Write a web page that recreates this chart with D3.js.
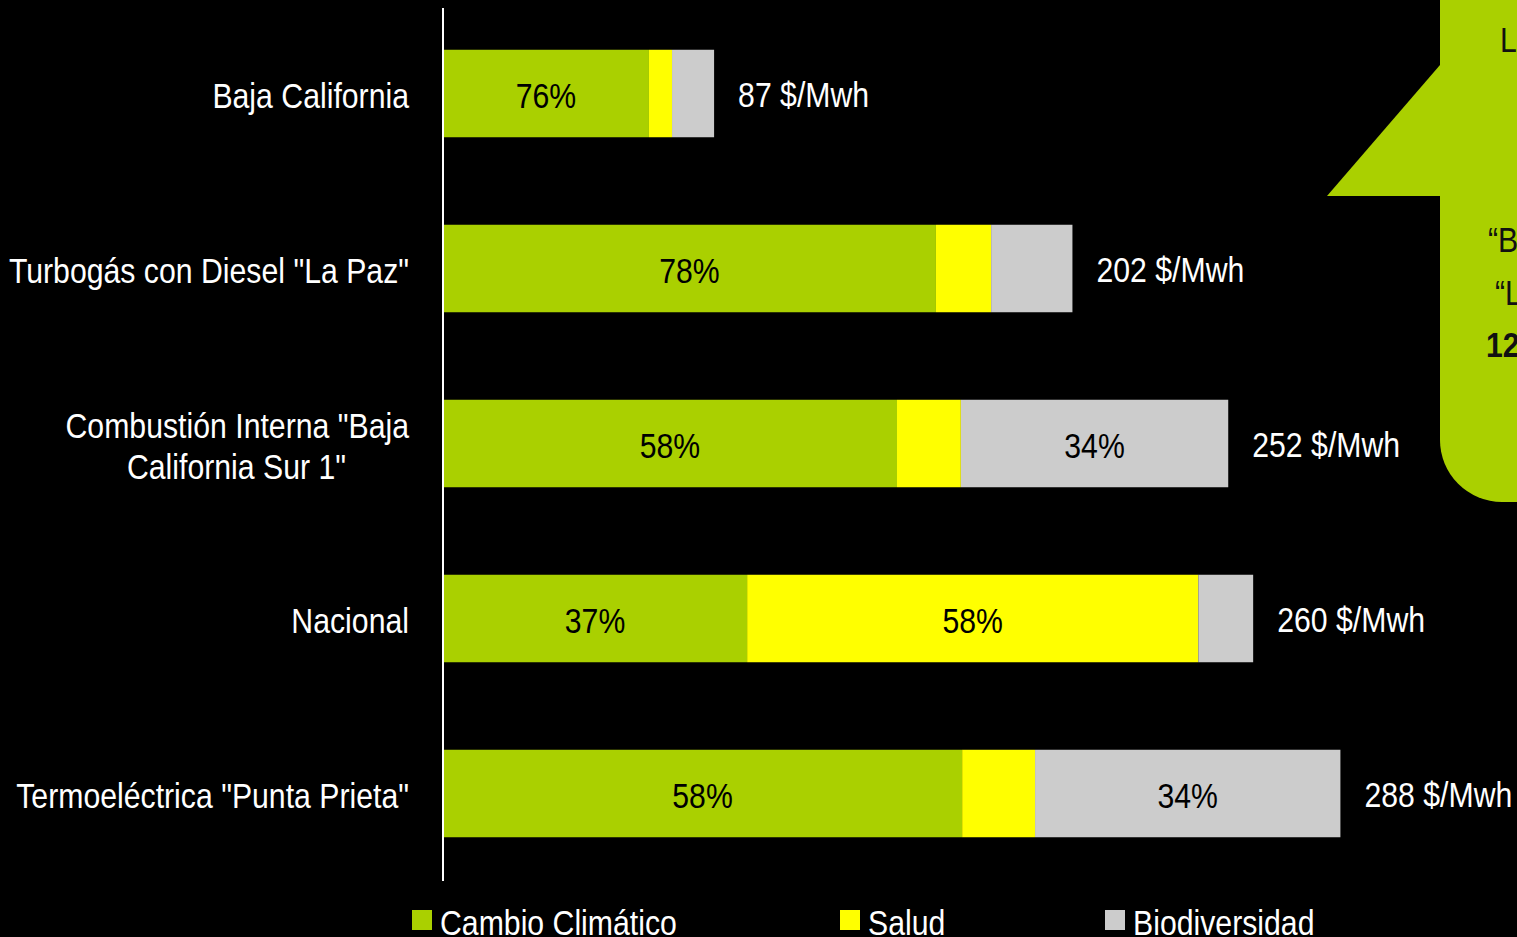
<!DOCTYPE html>
<html>
<head>
<meta charset="utf-8">
<script src="https://cdn.jsdelivr.net/npm/d3@7"></script>
<style>
  html, body { margin: 0; padding: 0; background: #000; overflow: hidden; }
  svg text { font-family: "Liberation Sans", Arial, sans-serif; }
</style>
</head>
<body>
<div class="svg-container"></div>
<script>
// categories, top to bottom
const categories = ["Baja California", "Turbogás con Diesel \"La Paz\"",
                    "Combustión Interna \"Baja|California Sur 1\"", "Nacional",
                    "Termoeléctrica \"Punta Prieta\""];
const series = ["Cambio Climático", "Salud", "Biodiversidad"];
// $/Mwh per component
const cambio = [66.1, 158.2, 145.7, 97.6, 166.6];
const salud = [7.4, 17.7, 20.5, 144.8, 23.4];
const biodiv = [13.5, 26.1, 85.8, 17.6, 98.0];
const totals = [87, 202, 252, 260, 288];
// percent labels shown in the segments ("" = none)
const cambioLbl = ["76%", "78%", "58%", "37%", "58%"];
const saludLbl = ["", "", "", "58%", ""];
const biodivLbl = ["", "", "34%", "", "34%"];
const colors = ["#aad000", "#ffff00", "#cccccc"];

const w = 1517, h = 937, fs = 36, sx = 0.84;
const svg = d3.select(".svg-container").append("svg")
  .attr("width", w).attr("height", h);

const xScale = d3.scaleLinear().domain([0, 300]).range([443, 443 + 300 * 3.116]);
const yScale = d3.scaleBand().domain(categories).range([6, 881])
  .paddingInner(0.5).paddingOuter(0.25);

// narrow text: a group placed at (x, y), squeezed horizontally
function narrow(sel, x, y) {
  return sel.append("g")
    .attr("transform", (d, i) => "translate(" + x(d, i) + "," + y(d, i) + ") scale(" + sx + ",1)")
    .append("text").attr("font-size", fs);
}

// stacked data
const rows = categories.map((c, i) => ({cat: c, vals: [cambio[i], salud[i], biodiv[i]],
  lbls: [cambioLbl[i], saludLbl[i], biodivLbl[i]], total: totals[i]}));
const stack = d3.stack().keys([0, 1, 2]).value((d, k) => d.vals[k]);
const layers = stack(rows);

// callout
const call = svg.append("g");
call.append("path")
  .attr("d", "M1440,65 L1327,196 L1440,196 Z")
  .attr("fill", colors[0]);
call.append("rect")
  .attr("x", 1440).attr("y", -60).attr("width", 200).attr("height", 562)
  .attr("rx", 62).attr("fill", colors[0]);
const callText = [["L", 1500, 52, "normal"], ["\u201CB", 1488, 252, "normal"],
                  ["\u201CL", 1495, 305, "normal"], ["12", 1486, 357, "bold"]];
narrow(call.selectAll(null).data(callText).enter(), d => d[1], d => d[2])
  .attr("font-weight", d => d[3])
  .attr("fill", "#111").text(d => d[0]);

// bars
const g = svg.append("g");
layers.forEach((layer, k) => {
  g.selectAll(null).data(layer).enter().append("rect")
    .attr("x", d => xScale(d[0]))
    .attr("y", d => yScale(d.data.cat))
    .attr("width", d => xScale(d[1]) - xScale(d[0]))
    .attr("height", yScale.bandwidth())
    .attr("fill", colors[k]);
  narrow(g.selectAll(null).data(layer.filter(d => d.data.lbls[k])).enter(),
         d => (xScale(d[0]) + xScale(d[1])) / 2,
         d => yScale(d.data.cat) + yScale.bandwidth() / 2 + 2)
    .attr("dy", "0.35em")
    .attr("text-anchor", "middle")
    .attr("fill", "#000")
    .text(d => d.data.lbls[k]);
});

// totals
narrow(g.selectAll(null).data(rows).enter(),
       d => xScale(d.total) + 24,
       d => yScale(d.cat) + yScale.bandwidth() / 2 + 1)
  .attr("dy", "0.35em")
  .attr("fill", "#fff")
  .text(d => d.total + " $/Mwh");

// axis
svg.append("line")
  .attr("x1", 443).attr("x2", 443).attr("y1", 8).attr("y2", 881)
  .attr("stroke", "#fff").attr("stroke-width", 2);

// category labels
const cl = narrow(svg.append("g").selectAll(null).data(categories).enter(),
                  d => 409, d => yScale(d) + yScale.bandwidth() / 2 + 2)
  .attr("text-anchor", "end")
  .attr("fill", "#fff");
cl.each(function(d) {
  const parts = d.split("|");
  const t = d3.select(this);
  parts.forEach((p, i) => {
    t.append("tspan")
      .attr("x", i === 0 ? 0 : (346 - 409) / sx)
      .attr("dy", i === 0 ? (0.35 - (parts.length - 1) * 0.57) + "em" : "1.14em")
      .text(p);
  });
});

// legend
const lx = [412, 840, 1105];
const lg = svg.append("g").selectAll("g").data(series).enter().append("g")
  .attr("transform", (d, i) => "translate(" + lx[i] + ",910)");
lg.append("rect").attr("width", 20).attr("height", 20).attr("fill", (d, i) => colors[i]);
narrow(lg, d => 28, d => 25)
  .attr("fill", "#fff").text(d => d);
</script>
</body>
</html>
